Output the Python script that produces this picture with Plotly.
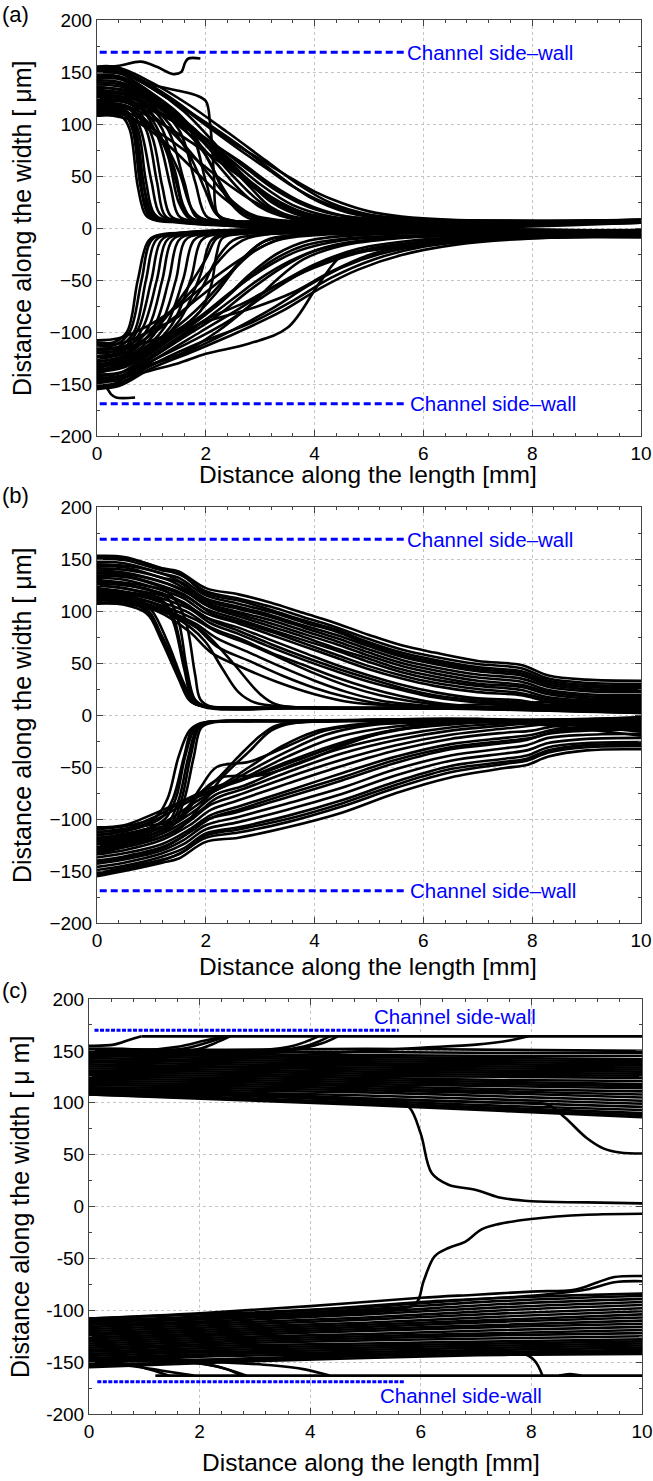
import plotly.graph_objects as go

# ---------------- data ----------------
X_TICKS = [0, 2, 4, 6, 8, 10]
Y_TICKS = [-200, -150, -100, -50, 0, 50, 100, 150, 200]
Y_TICKTEXT_C = ["-200", "-150", "-100", "-50", "0", "50", "100", "150", "200"]

WALL_AB = [(0.05, 169), (5.65, 169)]
WALL_AB_LOW = [(0.05, -169), (5.65, -169)]
WALL_C = [(0.1, 170), (5.6, 170)]
WALL_C_LOW = [(0.15, -169), (5.72, -169)]
WALL_LABEL_AB = "Channel side\u2013wall"
WALL_LABEL_C = "Channel side-wall"

# Panel (a): particle paths, upper half
A_UPPER = [
    [(0,108),(0.45,107),(0.6,95),(0.75,40),(0.9,12),(1.1,7),(2,6),(10,6)],
    [(0,110),(0.5,109),(0.65,95),(0.8,40),(0.95,12),(1.2,7),(2,6),(10,7)],
    [(0,112),(0.5,111),(0.68,100),(0.85,45),(1.0,12),(1.25,7),(2,6),(10,5)],
    [(0,115),(0.55,112),(0.75,95),(0.9,45),(1.05,14),(1.3,7),(10,6)],
    [(0,118),(0.6,114),(0.8,95),(1.0,45),(1.15,14),(1.4,7),(10,7)],
    [(0,120),(0.6,116),(0.9,95),(1.1,45),(1.25,12),(1.5,7),(10,6)],
    [(0,122),(0.65,118),(1.0,90),(1.2,40),(1.35,12),(1.6,7),(10,8)],
    [(0,125),(0.7,120),(1.1,90),(1.35,40),(1.5,12),(1.75,7),(10,6)],
    [(0,128),(0.75,122),(1.2,95),(1.45,45),(1.65,12),(1.9,7),(10,5)],
    [(0,130),(0.8,124),(1.3,95),(1.6,45),(1.8,12),(2.05,7),(10,7)],
    [(0,133),(0.9,124),(1.5,95),(1.8,45),(2.0,12),(2.25,7),(10,6)],
    [(0,136),(1.0,124),(1.7,95),(2.0,45),(2.2,14),(2.5,7),(10,8)],
    [(0,150),(0.4,149),(1.0,130),(1.5,110),(2.0,80),(2.5,50),(3.0,25),(3.5,10),(4.2,7),(10,6)],
    [(0,152),(0.4,151),(1.0,135),(1.6,112),(2.1,85),(2.7,50),(3.2,25),(3.8,11),(4.5,7),(10,7)],
    [(0,147),(0.4,146),(1.0,128),(1.5,108),(2.0,85),(2.5,60),(3.0,35),(3.6,15),(4.3,8),(10,6)],
    [(0,145),(0.4,144),(0.9,128),(1.4,108),(1.9,88),(2.4,68),(3.0,42),(3.6,22),(4.3,11),(5.2,7),(10,5)],
    [(0,155),(0.3,155),(0.9,140),(1.5,120),(2.0,100),(2.5,82),(3.0,66),(3.5,50),(4.0,35),(4.5,24),(5.0,16),(5.6,11),(6.5,8),(10,7)],
    [(0,153),(0.3,153),(0.9,138),(1.5,118),(2.1,95),(2.6,76),(3.1,58),(3.6,40),(4.1,26),(4.7,15),(5.4,10),(6.3,8),(10,6)],
    [(0,140),(0.5,137),(1.1,118),(1.7,97),(2.3,75),(2.8,55),(3.3,36),(3.9,20),(4.6,11),(5.5,7.5),(10,6)],
    [(0,138),(0.5,135),(1.0,120),(1.6,98),(2.2,72),(2.7,50),(3.2,30),(3.8,15),(4.5,9),(10,7)],
    [(0,142),(0.5,139),(1.2,115),(1.8,90),(2.3,65),(2.8,42),(3.3,24),(3.9,12),(4.6,8),(10,6)],
    [(0,132),(0.5,129),(1.2,110),(1.8,85),(2.2,62),(2.6,38),(3.0,20),(3.5,10),(4.2,7),(10,5)],
    [(0,127),(0.5,125),(1.1,105),(1.6,80),(2.0,55),(2.4,30),(2.8,14),(3.3,8),(10,6)],
    [(0,150),(0.5,148),(1.0,138),(1.5,132),(1.8,128),(2.0,122),(2.08,100),(2.15,50),(2.2,15),(2.35,7),(10,7)],
    [(0,124),(0.6,120),(1.0,105),(1.3,70),(1.5,25),(1.7,9),(2.0,7),(10,6)],
    [(0,117),(0.6,114),(1.0,98),(1.4,60),(1.6,20),(1.8,8),(10,5)],
    [(0,113),(0.6,110),(1.1,92),(1.5,55),(1.75,18),(2.0,8),(10,7)],
    [(0,135),(0.7,130),(1.2,108),(1.7,70),(2.0,35),(2.2,13),(2.5,7),(10,6)],
    [(0,144),(0.5,142),(1.1,122),(1.7,95),(2.1,60),(2.4,28),(2.7,12),(3.0,7),(10,8)],
    [(0,146),(0.5,144),(1.2,120),(1.8,95),(2.3,68),(2.8,40),(3.2,20),(3.8,9),(10,6)],
    [(0,108),(0.3,108),(0.8,100),(1.3,80),(1.8,55),(2.3,30),(2.8,12),(3.3,7),(10,5)],
    [(0,111),(0.4,110),(1.0,96),(1.6,75),(2.2,50),(2.8,28),(3.4,13),(4.0,8),(10,6)],
    [(0,120),(0.5,118),(1.2,100),(1.8,80),(2.4,58),(3.0,36),(3.6,18),(4.3,9),(10,7)],
    [(0,126),(0.5,124),(1.2,108),(1.9,88),(2.6,65),(3.2,42),(3.8,24),(4.5,12),(5.3,8),(10,6)],
    [(0,150),(0.5,148),(1.2,128),(1.9,105),(2.6,80),(3.3,52),(3.9,30),(4.6,15),(5.4,9),(10,7)],
    [(0,154),(0.4,154),(1.0,140),(1.7,118),(2.4,92),(3.1,65),(3.7,42),(4.3,24),(5.0,13),(6.0,8),(10,6)],
    [(0,130),(0.6,127),(1.1,112),(1.6,95),(2.0,70),(2.3,40),(2.6,18),(3.0,9),(10,5)],
    [(0,109),(0.55,108),(0.7,90),(0.85,30),(1.0,10),(1.3,7),(10,6)],
    [(0,114),(0.55,112),(0.72,92),(0.88,35),(1.05,11),(1.35,7),(10,8)],
    [(0,155),(0.4,156),(0.8,160),(1.1,155),(1.4,148),(1.55,150),(1.62,159),(1.68,163),(1.9,163)],
]

# Panel (a): particle paths, lower half
A_LOWER = [
    [(0,-110),(0.3,-110),(0.55,-100),(0.75,-50),(0.95,-12),(1.2,-6),(2,-5),(10,-4)],
    [(0,-113),(0.35,-112),(0.6,-100),(0.82,-50),(1.0,-12),(1.3,-6),(10,-3)],
    [(0,-117),(0.4,-114),(0.68,-100),(0.9,-50),(1.08,-12),(1.35,-6),(10,-4)],
    [(0,-120),(0.45,-117),(0.75,-98),(1.0,-50),(1.18,-12),(1.45,-6),(10,-5)],
    [(0,-123),(0.5,-118),(0.85,-95),(1.1,-50),(1.28,-12),(1.55,-6),(10,-6)],
    [(0,-126),(0.55,-119),(0.95,-95),(1.2,-50),(1.38,-12),(1.65,-6),(10,-5)],
    [(0,-129),(0.6,-120),(1.05,-95),(1.32,-50),(1.5,-12),(1.75,-6),(10,-7)],
    [(0,-132),(0.65,-121),(1.15,-95),(1.45,-50),(1.62,-12),(1.9,-6),(10,-5)],
    [(0,-135),(0.7,-122),(1.25,-95),(1.58,-50),(1.78,-12),(2.05,-6),(10,-6)],
    [(0,-138),(0.75,-123),(1.35,-95),(1.72,-50),(1.92,-12),(2.2,-6),(10,-8)],
    [(0,-140),(0.8,-124),(1.5,-90),(1.9,-45),(2.1,-12),(2.35,-6),(10,-6)],
    [(0,-125),(0.6,-118),(1.2,-90),(1.7,-55),(2.0,-30),(2.2,-10),(2.5,-6),(10,-4)],
    [(0,-150),(0.3,-150),(0.8,-135),(1.5,-122),(2.2,-100),(2.8,-75),(3.3,-50),(3.8,-30),(4.5,-17),(5.5,-10),(7,-7),(10,-6)],
    [(0,-155),(0.3,-152),(0.8,-140),(1.5,-130),(2.0,-121),(2.8,-111),(3.5,-96),(4.1,-52),(4.5,-27),(5.1,-21),(5.8,-18),(7,-12),(8.5,-9),(10,-8)],
    [(0,-148),(0.4,-146),(1.0,-128),(1.7,-110),(2.4,-90),(3.0,-68),(3.6,-48),(4.2,-32),(5.0,-20),(6.0,-13),(7.5,-9),(10,-7)],
    [(0,-145),(0.4,-143),(1.0,-125),(1.6,-105),(2.2,-85),(2.8,-60),(3.4,-38),(4.0,-22),(4.8,-13),(6,-8),(10,-6)],
    [(0,-142),(0.4,-140),(1.0,-120),(1.6,-98),(2.2,-75),(2.7,-52),(3.2,-32),(3.8,-17),(4.6,-10),(6,-7),(10,-5)],
    [(0,-152),(0.4,-150),(1.0,-132),(1.7,-118),(2.5,-98),(3.2,-78),(3.9,-55),(4.5,-38),(5.2,-25),(6.2,-15),(7.5,-10),(10,-9)],
    [(0,-138),(0.5,-134),(1.1,-115),(1.7,-95),(2.3,-70),(2.8,-45),(3.3,-25),(3.9,-12),(4.8,-7),(10,-3)],
    [(0,-133),(0.5,-129),(1.1,-112),(1.7,-90),(2.2,-62),(2.6,-35),(3.0,-15),(3.5,-8),(10,-4)],
    [(0,-146),(0.5,-143),(1.2,-122),(1.9,-100),(2.6,-78),(3.3,-55),(4.0,-35),(4.8,-20),(5.8,-12),(7.2,-8),(10,-6)],
    [(0,-128),(0.5,-124),(1.2,-105),(1.8,-80),(2.3,-52),(2.7,-28),(3.1,-12),(3.6,-7),(10,-2)],
    [(0,-144),(0.5,-141),(1.2,-118),(1.9,-92),(2.5,-68),(3.1,-45),(3.7,-28),(4.4,-16),(5.3,-10),(7,-7),(10,-5)],
    [(0,-120),(0.6,-115),(1.2,-95),(1.8,-70),(2.4,-45),(2.9,-22),(3.4,-10),(4,-6),(10,-4)],
    [(0,-116),(0.6,-112),(1.1,-92),(1.6,-68),(2.1,-40),(2.5,-18),(2.9,-8),(10,-3)],
    [(0,-136),(0.5,-132),(1.2,-110),(1.9,-85),(2.5,-60),(3.1,-38),(3.7,-22),(4.5,-12),(5.6,-8),(10,-7)],
    [(0,-154),(0.4,-152),(1.0,-135),(1.8,-118),(2.6,-100),(3.4,-80),(4.1,-58),(4.8,-40),(5.6,-26),(6.6,-16),(8,-10),(10,-8)],
    [(0,-108),(0.4,-106),(0.9,-95),(1.5,-75),(2.1,-50),(2.7,-28),(3.3,-12),(4,-7),(10,-4)],
    [(0,-141),(0.5,-138),(1.3,-112),(2.0,-88),(2.7,-72),(3.3,-55),(4.0,-38),(4.8,-24),(5.8,-15),(7,-10),(8.5,-7),(10,-6)],
    [(0,-131),(0.5,-127),(1.3,-106),(2.0,-90),(2.8,-78),(3.6,-62),(4.3,-42),(5.0,-26),(5.8,-16),(7,-10),(10,-6)],
    [(0,-147),(0.5,-144),(1.3,-124),(2.0,-108),(2.8,-92),(3.6,-70),(4.3,-48),(5.1,-30),(6,-18),(7.3,-11),(10,-7)],
    [(0,-118),(0.6,-114),(1.4,-100),(1.9,-80),(2.1,-55),(2.2,-25),(2.3,-10),(2.6,-6),(10,-4)],
    [(0,-112),(0.5,-110),(1.0,-98),(1.5,-85),(1.9,-60),(2.2,-30),(2.5,-12),(2.9,-7),(10,-5)],
    [(0,-150),(0.15,-152),(0.26,-160),(0.35,-163),(0.7,-163)],
]

# Panel (b): upper half
B_UPPER = [
    [(0,153),(0.5,152),(1.2,141),(1.5,138),(2.0,122),(2.6,116),(3.2,108),(3.8,98),(4.3,90),(5.0,77),(5.6,67),(6.2,60),(7.0,52),(7.8,48),(8.3,38),(9,34),(10,33)],
    [(0,150),(0.5,149),(1.2,139),(1.5,136),(2.0,119),(2.6,112),(3.2,104),(3.8,94),(4.3,86),(5.0,73),(5.6,63),(6.2,56),(7.0,49),(7.8,45),(8.3,35),(9,31),(10,30)],
    [(0,147),(0.5,146),(1.2,136),(1.5,132),(2.0,115),(2.6,107),(3.2,99),(3.8,89),(4.4,80),(5.0,68),(5.6,58),(6.2,51),(7.0,44),(7.8,40),(8.3,31),(9,27),(10,26)],
    [(0,143),(0.5,142),(1.2,132),(1.5,128),(2.0,110),(2.6,102),(3.2,94),(3.8,84),(4.4,74),(5.0,63),(5.6,53),(6.2,46),(7.0,39),(7.8,35),(8.3,27),(9,23),(10,22)],
    [(0,139),(0.5,137),(1.2,128),(1.6,120),(2.0,106),(2.6,97),(3.2,88),(3.8,78),(4.4,68),(5.0,57),(5.6,47),(6.2,40),(7.0,33),(7.8,29),(8.3,22),(9,18),(10,17)],
    [(0,136),(0.5,134),(1.2,124),(1.6,116),(2.0,102),(2.6,92),(3.2,82),(3.8,72),(4.4,62),(5.0,51),(5.6,41),(6.2,34),(7.0,28),(7.8,24),(8.3,17),(9,14),(10,13)],
    [(0,132),(0.5,130),(1.2,120),(1.6,112),(2.0,98),(2.6,88),(3.2,77),(3.8,66),(4.4,55),(5.0,44),(5.6,35),(6.2,28),(7.0,22),(7.8,19),(8.3,13),(9,10),(10,9)],
    [(0,128),(0.5,126),(1.2,117),(1.6,108),(2.0,94),(2.6,84),(3.2,72),(3.8,60),(4.4,48),(5.0,38),(5.6,29),(6.2,22),(7.0,16),(7.8,14),(8.3,9),(9,7),(10,6)],
    [(0,124),(0.5,122),(1.2,112),(1.7,102),(2.1,88),(2.6,78),(3.2,65),(3.8,53),(4.4,42),(5.0,32),(5.6,24),(6.2,17),(7.0,12),(7.8,10),(8.5,6),(10,4)],
    [(0,120),(0.5,118),(1.2,108),(1.7,98),(2.1,84),(2.6,74),(3.2,60),(3.8,48),(4.4,36),(5.0,26),(5.6,18),(6.2,12),(7.0,8),(8,6),(10,3)],
    [(0,117),(0.5,115),(1.2,105),(1.8,92),(2.2,80),(2.8,68),(3.4,54),(4.0,40),(4.6,28),(5.2,19),(5.8,13),(6.5,9),(7.5,6),(10,2)],
    [(0,114),(0.5,112),(1.2,102),(1.8,88),(2.2,74),(2.8,60),(3.4,46),(4.0,33),(4.6,22),(5.2,14),(5.8,10),(6.5,7),(10,2)],
    [(0,111),(0.5,110),(1.2,100),(1.8,85),(2.2,66),(2.8,52),(3.4,38),(4.0,26),(4.6,17),(5.2,11),(6,8),(7,7),(10,4)],
    [(0,108),(0.5,107),(1.1,100),(1.7,80),(2.1,60),(2.7,45),(3.3,32),(4.0,20),(4.7,12),(5.5,9),(6.5,7),(10,5)],
    [(0,145),(0.6,143),(1.3,134),(1.6,126),(2.0,112),(2.6,104),(3.2,96),(3.8,86),(4.4,77),(5.0,66),(5.6,56),(6.2,49),(7.0,42),(7.8,38),(8.3,29),(9,25),(10,24)],
    [(0,141),(0.6,139),(1.3,130),(1.6,122),(2.0,108),(2.6,99),(3.2,91),(3.8,81),(4.4,71),(5.0,60),(5.6,50),(6.2,43),(7.0,36),(7.8,32),(8.3,24),(9,20),(10,19)],
    [(0,134),(0.6,132),(1.3,121),(1.7,112),(2.1,98),(2.6,90),(3.2,80),(3.8,69),(4.4,58),(5.0,47),(5.6,38),(6.2,31),(7.0,25),(7.8,21),(8.3,15),(9,12),(10,11)],
    [(0,126),(0.6,124),(1.3,114),(1.7,104),(2.1,91),(2.6,81),(3.2,68),(3.8,56),(4.4,45),(5.0,35),(5.6,26),(6.2,19),(7.0,14),(7.8,12),(8.4,8),(10,5)],
    [(0,151),(0.6,150),(1.3,139),(1.6,133),(2.0,117),(2.6,110),(3.2,101),(3.8,91),(4.4,82),(5.0,70),(5.6,60),(6.2,53),(7.0,46),(7.8,42),(8.3,33),(9,29),(10,28)],
    [(0,137),(0.6,135),(1.3,126),(1.7,116),(2.1,103),(2.6,95),(3.2,85),(3.8,75),(4.4,64),(5.0,54),(5.6,44),(6.2,37),(7.0,30),(7.8,27),(8.3,20),(9,16),(10,15)],
    [(0,110),(0.6,108),(0.9,100),(1.2,70),(1.5,35),(1.7,14),(1.9,9),(2.5,7),(5,7),(7,6),(10,4)],
    [(0,113),(0.6,111),(0.95,100),(1.25,68),(1.55,32),(1.75,12),(2.0,8),(3,7),(6,6.5),(10,5)],
    [(0,116),(0.7,113),(1.0,101),(1.3,70),(1.6,30),(1.8,12),(2.1,8),(4,7),(6.5,6),(10,3)],
    [(0,122),(0.8,116),(1.2,110),(1.4,95),(1.6,50),(1.75,18),(1.95,9),(3,7),(6,6.5),(10,6)],
    [(0,125),(0.9,118),(1.3,112),(1.5,90),(1.65,45),(1.8,15),(2.0,8),(3.5,7),(6.8,6),(10,7)],
    [(0,119),(0.8,114),(1.2,108),(1.4,90),(1.6,45),(1.75,16),(1.95,8),(4,7),(7,6),(10,8)],
    [(0,130),(0.9,124),(1.3,118),(1.6,95),(1.8,40),(1.9,15),(2.1,8),(4,7),(6.5,6),(10,10)],
    [(0,115),(0.6,113),(1.2,104),(1.6,92),(2.0,78),(2.5,50),(3.0,20),(3.3,10),(3.8,7),(6,6.5),(10,12)],
    [(0,112),(0.6,110),(1.2,100),(1.7,85),(2.0,70),(2.3,45),(2.6,22),(2.9,12),(3.5,8),(6,6.5),(10,14)],
    [(0,107),(0.5,106),(0.9,98),(1.2,75),(1.5,40),(1.7,15),(1.9,9),(3,7),(5,7),(10,16)],
]

# Panel (b): lower half
B_LOWER = [
    [(0,-155),(0.5,-150),(1.2,-142),(1.5,-138),(2.0,-122),(2.6,-118),(3.5,-108),(4.5,-94),(5.5,-75),(6.5,-60),(7.5,-51),(7.9,-48),(8.3,-40),(9,-34),(10,-33)],
    [(0,-152),(0.5,-147),(1.2,-139),(1.5,-134),(2.0,-118),(2.6,-113),(3.5,-103),(4.5,-88),(5.5,-70),(6.5,-55),(7.5,-47),(7.9,-44),(8.3,-36),(9,-31),(10,-30)],
    [(0,-149),(0.5,-145),(1.2,-136),(1.6,-128),(2.0,-114),(2.6,-108),(3.5,-97),(4.5,-82),(5.5,-64),(6.5,-49),(7.5,-42),(7.9,-39),(8.3,-31),(9,-27),(10,-26)],
    [(0,-146),(0.5,-142),(1.2,-133),(1.6,-124),(2.0,-110),(2.6,-103),(3.5,-91),(4.5,-76),(5.5,-58),(6.5,-44),(7.5,-37),(7.9,-34),(8.3,-27),(9,-23),(10,-22)],
    [(0,-143),(0.5,-139),(1.2,-130),(1.6,-120),(2.0,-106),(2.6,-98),(3.5,-85),(4.5,-70),(5.5,-52),(6.5,-39),(7.5,-32),(7.9,-29),(8.3,-22),(9,-19),(10,-18)],
    [(0,-140),(0.5,-136),(1.2,-127),(1.6,-116),(2.0,-101),(2.6,-93),(3.5,-79),(4.5,-63),(5.5,-46),(6.5,-33),(7.5,-27),(7.9,-24),(8.3,-18),(9,-15),(10,-14)],
    [(0,-137),(0.5,-133),(1.2,-124),(1.7,-110),(2.1,-96),(2.6,-88),(3.5,-73),(4.5,-56),(5.5,-40),(6.5,-28),(7.5,-22),(8.0,-19),(8.4,-14),(9,-11),(10,-10)],
    [(0,-134),(0.5,-130),(1.2,-120),(1.7,-106),(2.1,-91),(2.6,-82),(3.5,-66),(4.5,-49),(5.5,-34),(6.5,-23),(7.5,-17),(8.0,-15),(8.5,-10),(10,-7)],
    [(0,-131),(0.5,-127),(1.2,-117),(1.7,-102),(2.1,-86),(2.6,-77),(3.5,-60),(4.5,-43),(5.5,-29),(6.5,-19),(7.5,-13),(8.5,-8),(10,-5)],
    [(0,-128),(0.5,-124),(1.2,-114),(1.8,-96),(2.2,-80),(2.7,-71),(3.5,-55),(4.5,-37),(5.5,-24),(6.5,-15),(7.5,-10),(8.5,-6),(10,-3)],
    [(0,-125),(0.5,-121),(1.2,-111),(1.8,-92),(2.2,-76),(2.7,-68),(3.5,-50),(4.5,-32),(5.5,-20),(6.5,-12),(7.5,-8),(10,-2)],
    [(0,-122),(0.5,-118),(1.2,-108),(1.8,-88),(2.2,-72),(2.7,-62),(3.5,-45),(4.4,-28),(5.3,-16),(6.3,-10),(7.5,-6),(10,-3)],
    [(0,-118),(0.5,-115),(1.2,-104),(1.8,-84),(2.2,-72),(2.8,-58),(3.5,-40),(4.3,-23),(5.2,-13),(6.2,-8),(7.5,-5),(10,-4)],
    [(0,-115),(0.5,-112),(1.1,-100),(1.8,-80),(2.2,-72),(2.8,-54),(3.5,-35),(4.2,-19),(5.0,-10),(6,-7),(10,-5)],
    [(0,-112),(0.5,-110),(1.1,-97),(1.7,-80),(2.2,-70),(2.8,-50),(3.4,-30),(4.0,-16),(4.8,-9),(6,-6),(10,-6)],
    [(0,-108),(0.5,-106),(1.0,-96),(1.6,-82),(2.1,-70),(2.8,-60),(3.6,-45),(4.4,-30),(5.2,-18),(6,-11),(7,-7),(10,-5)],
    [(0,-153),(0.5,-149),(1.2,-140),(1.6,-131),(2.0,-116),(2.6,-110),(3.5,-100),(4.5,-85),(5.5,-67),(6.5,-52),(7.5,-45),(7.9,-42),(8.3,-34),(9,-29),(10,-28)],
    [(0,-141),(0.5,-137),(1.2,-128),(1.7,-113),(2.1,-99),(2.6,-91),(3.5,-76),(4.5,-60),(5.5,-43),(6.5,-31),(7.5,-25),(8.0,-22),(8.4,-16),(9,-13),(10,-12)],
    [(0,-110),(0.7,-105),(1.1,-97),(1.3,-80),(1.5,-40),(1.7,-15),(1.9,-8),(2.5,-6),(5,-6),(7,-4),(10,-8)],
    [(0,-116),(0.8,-108),(1.2,-98),(1.4,-80),(1.6,-40),(1.75,-14),(1.95,-8),(3,-6),(6,-5),(10,-10)],
    [(0,-120),(0.8,-112),(1.25,-100),(1.45,-80),(1.62,-40),(1.8,-13),(2.0,-7),(3,-6),(6.5,-5),(10,-12)],
    [(0,-124),(0.9,-114),(1.3,-104),(1.5,-82),(1.68,-40),(1.85,-12),(2.05,-7),(4,-6),(7,-4),(10,-14)],
    [(0,-127),(0.9,-117),(1.35,-105),(1.55,-82),(1.72,-40),(1.88,-12),(2.1,-7),(4,-6),(7,-4),(10,-16)],
    [(0,-130),(1.0,-118),(1.4,-106),(1.6,-82),(1.78,-40),(1.92,-12),(2.15,-7),(4,-6),(7,-5),(10,-20)],
    [(0,-121),(0.8,-113),(1.4,-104),(1.8,-80),(2.2,-62),(2.6,-40),(3.0,-20),(3.3,-10),(3.8,-7),(6,-5),(10,-9)],
    [(0,-133),(0.9,-122),(1.5,-110),(1.9,-88),(2.3,-60),(2.8,-35),(3.2,-15),(3.6,-8),(6,-5),(10,-11)],
    [(0,-113),(0.8,-107),(1.5,-100),(1.9,-70),(2.2,-50),(2.8,-45),(3.5,-30),(4.2,-15),(5,-9),(7,-6),(10,-4)],
    [(0,-119),(0.8,-111),(1.5,-102),(1.9,-75),(2.3,-60),(3,-58),(3.8,-45),(4.6,-28),(5.4,-15),(6.5,-8),(8,-6),(10,-5)],
]

# Panel (c): upper half
C_UPPER = [
    [(0,152),(2.5,151),(5,152),(7.5,151),(10,150)],
    [(0,150),(2.5,149),(5,149),(7.5,148),(10,148)],
    [(0,149),(2.5,147),(5,146),(7.5,145),(10,145)],
    [(0,147),(2.5,145),(5,144),(7.5,143),(10,142)],
    [(0,145),(2.5,143),(5,142),(7.5,141),(10,140)],
    [(0,143),(2.5,141),(5,140),(7.5,139),(10,138)],
    [(0,141),(2.5,139),(5,138),(7.5,137),(10,136)],
    [(0,139),(2.5,137),(5,136),(7.5,135),(10,134)],
    [(0,137),(2.5,135),(5,134),(7.5,133),(10,132)],
    [(0,135),(2.5,134),(5,132),(7.5,131),(10,130)],
    [(0,133),(2.5,132),(5,130),(7.5,129),(10,128)],
    [(0,131),(2.5,130),(5,128),(7.5,127),(10,126)],
    [(0,129),(2.5,128),(5,126),(7.5,125),(10,124)],
    [(0,127),(2.5,126),(5,124),(7.5,122),(10,121)],
    [(0,125),(2.5,124),(5,122),(7.5,120),(10,118)],
    [(0,123),(2.5,122),(5,120),(7.5,118),(10,116)],
    [(0,121),(2.5,120),(5,118),(7.5,116),(10,114)],
    [(0,119),(2.5,118),(5,116),(7.5,113),(10,111)],
    [(0,117),(2.5,116),(5,114),(7.5,111),(10,108)],
    [(0,115),(2.5,114),(5,112),(7.5,109),(10,105)],
    [(0,113),(2.5,112),(5,110),(7.5,106),(10,102)],
    [(0,112),(2.5,110),(5,107),(7.5,103),(10,99)],
    [(0,111),(2.5,108),(5,104),(7.5,100),(10,96)],
    [(0,110),(2.5,107),(5,102),(7.5,97),(10,93)],
    [(0,109),(2.5,105),(5,100),(7.5,95),(10,90)],
    [(0,108),(2.5,104),(5,99),(7.5,93),(10,88)],
    [(0,108),(2.5,103),(5,98),(7.5,92),(10,86)],
    [(0,113),(2.5,108),(5,102),(5.6,100),(5.8,95),(6.0,70),(6.2,32),(6.5,21),(7.0,16),(7.4,9),(8.0,5),(9,4),(10,3)],
    [(0,114),(2.5,110),(5,104),(7.5,100),(8.3,98),(8.6,86),(9.0,66),(9.3,56),(9.6,52),(10,51)],
    [(0,155),(0.45,156),(0.75,161),(0.95,164)],
    [(0,152),(0.6,152),(1.0,151),(1.6,154),(2.1,160),(2.45,164)],
    [(0,151),(0.8,151),(1.2,150),(1.8,153),(2.2,159),(2.5,164)],
    [(0,150),(1.0,150),(1.4,149),(2.0,152),(2.3,158),(2.55,164)],
    [(0,148),(1.2,148),(2.0,147),(3.0,150),(3.7,155),(4.15,164)],
    [(0,147),(1.5,147),(2.5,147),(3.4,150),(4.0,156),(4.35,164)],
    [(0,146),(1.5,146),(2.8,146),(3.6,150),(4.2,157),(4.5,164)],
    [(0,140),(2.5,142),(5.0,150),(6.0,153),(7.0,156),(7.6,160),(7.95,164)],
]

# Panel (c): lower half
C_LOWER = [
    [(0,-108),(2.5,-103),(5,-97),(7.5,-88),(10,-84)],
    [(0,-110),(2.5,-106),(5,-99),(7.5,-91),(10,-86)],
    [(0,-112),(2.5,-108),(5,-102),(7.5,-94),(10,-89)],
    [(0,-114),(2.5,-110),(5,-104),(7.5,-97),(10,-92)],
    [(0,-116),(2.5,-112),(5,-107),(7.5,-100),(10,-95)],
    [(0,-118),(2.5,-114),(5,-109),(7.5,-103),(10,-98)],
    [(0,-120),(2.5,-116),(5,-112),(7.5,-106),(10,-101)],
    [(0,-122),(2.5,-118),(5,-114),(7.5,-109),(10,-104)],
    [(0,-124),(2.5,-120),(5,-116),(7.5,-111),(10,-107)],
    [(0,-126),(2.5,-122),(5,-118),(7.5,-114),(10,-110)],
    [(0,-128),(2.5,-124),(5,-120),(7.5,-116),(10,-113)],
    [(0,-130),(2.5,-126),(5,-123),(7.5,-119),(10,-116)],
    [(0,-132),(2.5,-128),(5,-125),(7.5,-122),(10,-119)],
    [(0,-134),(2.5,-130),(5,-127),(7.5,-124),(10,-122)],
    [(0,-136),(2.5,-132),(5,-129),(7.5,-127),(10,-125)],
    [(0,-138),(2.5,-134),(5,-132),(7.5,-130),(10,-128)],
    [(0,-140),(2.5,-136),(5,-134),(7.5,-132),(10,-130)],
    [(0,-142),(2.5,-138),(5,-136),(7.5,-134),(10,-132)],
    [(0,-144),(2.5,-140),(5,-138),(7.5,-136),(10,-134)],
    [(0,-146),(2.5,-142),(5,-140),(7.5,-138),(10,-136)],
    [(0,-148),(2.5,-144),(5,-142),(7.5,-140),(10,-138)],
    [(0,-150),(2.5,-147),(5,-143),(7.5,-141),(10,-140)],
    [(0,-153),(2.5,-149),(5,-144),(7.5,-142),(10,-141)],
    [(0,-155),(2.5,-150),(5,-146),(7.5,-143),(10,-142)],
    [(0,-108),(2,-103),(4,-96),(6,-88),(7,-85),(8,-82),(8.8,-80),(9.2,-73),(9.5,-68),(10,-67)],
    [(0,-110),(2,-106),(4,-100),(6,-92),(8,-86),(9,-80),(9.5,-73),(10,-72)],
    [(0,-112),(2.5,-107),(5,-100),(5.9,-94),(6.05,-72),(6.25,-48),(6.5,-40),(6.8,-34),(7.1,-22),(7.4,-17),(8.0,-12),(9,-8),(10,-7)],
    [(0,-150),(0.3,-150),(0.7,-152),(1.1,-157),(1.45,-163)],
    [(0,-152),(0.4,-152),(0.8,-154),(1.3,-158),(1.9,-163)],
    [(0,-149),(1.0,-149),(1.8,-150),(2.3,-154),(2.85,-163)],
    [(0,-148),(1.2,-148),(2.0,-151),(2.5,-157),(2.75,-163)],
    [(0,-147),(1.5,-147),(2.4,-150),(3.3,-153),(3.9,-157),(4.35,-163)],
    [(0,-139),(3,-141),(5.5,-142),(7.8,-141),(8.05,-148),(8.2,-163)],
    [(8.5,-163),(8.7,-161.5),(8.9,-163)],
]

# straight segments along the absorbing walls in panel (c)
C_WALL_TRACKS = [
    [(0.95,164),(10,164)],
    [(1.2,-163),(10,-163)],
]

# ---------------- figure ----------------
FONT = "Liberation Sans, Arial, Helvetica, sans-serif"
LW = 2.6
fig = go.Figure()

def add_paths(paths, xa, ya, shape="spline", width=LW):
    for p in paths:
        fig.add_trace(go.Scatter(
            x=[q[0] for q in p], y=[q[1] for q in p], mode="lines",
            line=dict(color="black", width=width, shape=shape, smoothing=1.0),
            xaxis=xa, yaxis=ya, showlegend=False, hoverinfo="skip"))

def add_wall(seg, xa, ya, dash, width):
    fig.add_trace(go.Scatter(
        x=[q[0] for q in seg], y=[q[1] for q in seg], mode="lines",
        line=dict(color="#0000ff", width=width, dash=dash),
        xaxis=xa, yaxis=ya, showlegend=False, hoverinfo="skip"))

add_paths(A_UPPER, "x", "y")
add_paths(A_LOWER, "x", "y")
add_paths(B_UPPER, "x2", "y2")
add_paths(B_LOWER, "x2", "y2")
add_paths(C_UPPER, "x3", "y3")
add_paths(C_LOWER, "x3", "y3")
add_paths(C_WALL_TRACKS, "x3", "y3", shape="linear")

add_wall(WALL_AB, "x", "y", "7px,4px", 3)
add_wall(WALL_AB_LOW, "x", "y", "7px,4px", 3)
add_wall(WALL_AB, "x2", "y2", "7px,4px", 3)
add_wall(WALL_AB_LOW, "x2", "y2", "7px,4px", 3)
add_wall(WALL_C, "x3", "y3", "4px,1.5px", 3)
add_wall(WALL_C_LOW, "x3", "y3", "4px,1.5px", 3)

W, H = 653, 1481

def xax(domain, anchor):
    return dict(domain=domain, anchor=anchor, range=[0, 10], tickvals=X_TICKS,
                automargin=False,
                showline=True, linecolor="#444", linewidth=1, mirror="allticks",
                ticks="inside", ticklen=6, tickcolor="#444",
                showgrid=True, gridcolor="#c4c4c4", griddash="dot", gridwidth=1,
                zeroline=False, tickfont=dict(family=FONT, size=19, color="black"),
                minor=dict(ticks="inside", ticklen=3, dtick=0.4, tickcolor="#444", showgrid=False))

def yax(domain, anchor, ticktext=None):
    d = dict(domain=domain, anchor=anchor, range=[-200, 200], tickvals=Y_TICKS,
             automargin=False,
             showline=True, linecolor="#444", linewidth=1, mirror="allticks",
             ticks="inside", ticklen=6, tickcolor="#444",
             showgrid=True, gridcolor="#c4c4c4", griddash="dot", gridwidth=1,
             zeroline=False, tickfont=dict(family=FONT, size=19, color="black"),
             minor=dict(ticks="inside", ticklen=3, dtick=25, tickcolor="#444", showgrid=False))
    if ticktext:
        d["ticktext"] = ticktext
    return d

xa_dom = [97 / W, 641 / W]
xc_dom = [89 / W, 642 / W]
ya_dom = [1 - 436 / H, 1 - 20 / H]
yb_dom = [1 - 923 / H, 1 - 507 / H]
yc_dom = [1 - 1414 / H, 1 - 999 / H]

ann = []
def paper_text(text, px, py, size, angle=0):
    ann.append(dict(text=text, x=px / W, y=1 - py / H, xref="paper", yref="paper",
                    showarrow=False, textangle=angle, xanchor="center", yanchor="middle",
                    font=dict(family=FONT, size=size, color="black")))

paper_text("(a)", 15, 14, 22)
paper_text("(b)", 15, 495, 22)
paper_text("(c)", 15, 990, 22)
paper_text("Distance along the length [mm]", 368, 475, 24.5)
paper_text("Distance along the length [mm]", 368, 967, 24.5)
paper_text("Distance along the length [mm]", 371, 1462, 24.5)
paper_text("Distance along the width [ \u03bcm]", 22, 229, 25, -90)
paper_text("Distance along the width [ \u03bcm]", 22, 716, 25, -90)
paper_text("Distance along the width [ \u03bc m]", 20, 1207, 25, -90)

def wall_text(text, xa, ya, x, y):
    ann.append(dict(text=text, x=x, y=y, xref=xa, yref=ya, showarrow=False,
                    xanchor="left", yanchor="middle",
                    font=dict(family=FONT, size=20.5, color="#0000ff")))

wall_text(WALL_LABEL_AB, "x", "y", 5.66, 169)
wall_text(WALL_LABEL_AB, "x", "y", 5.72, -169)
wall_text(WALL_LABEL_AB, "x2", "y2", 5.66, 169)
wall_text(WALL_LABEL_AB, "x2", "y2", 5.72, -169)
wall_text(WALL_LABEL_C, "x3", "y3", 5.12, 183)
wall_text(WALL_LABEL_C, "x3", "y3", 5.23, -182)

fig.update_layout(
    width=W, height=H, margin=dict(l=0, r=0, t=0, b=0, autoexpand=False),
    paper_bgcolor="white", plot_bgcolor="white", showlegend=False,
    xaxis=xax(xa_dom, "y"), yaxis=yax(ya_dom, "x"),
    xaxis2=xax(xa_dom, "y2"), yaxis2=yax(yb_dom, "x2"),
    xaxis3=xax(xc_dom, "y3"), yaxis3=yax(yc_dom, "x3", Y_TICKTEXT_C),
    annotations=ann,
)

# remove the browser's default 8px page margin so the figure fills the window exactly
fig.write_html("out.html", config={"displayModeBar": False},
               post_script="document.body.style.margin='0';document.body.style.overflow='hidden';")
